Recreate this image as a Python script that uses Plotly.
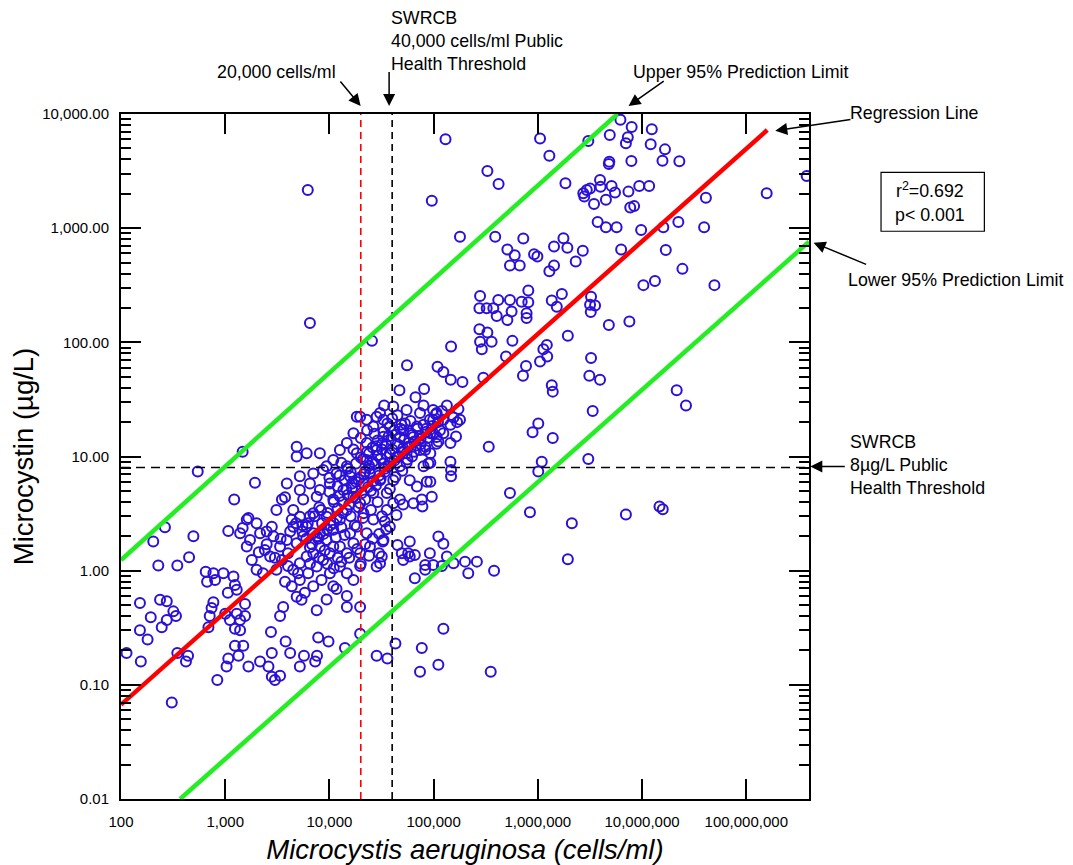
import plotly.graph_objects as go

# ---------------- data (cells/ml , microcystin ug/L) ----------------
# upper / right part of the cloud
high_x = [1.3e5, 1.05e6, 1.29e6, 3.28e5, 4.2e5, 9.6e4, 1.79e5, 3.05e6, 6.2e6, 7.95e6,
          4.9e6, 7.3e6, 7.0e6, 1.24e7, 1.21e7, 1.66e7, 1.57e7, 2.28e7, 7.9e6, 4.85e6,
          4.8e6, 1.84e6, 2.73e6, 2.95e6, 3.17e6, 2.79e6, 3.95e6, 4.0e6, 5.1e6, 5.5e6,
          4.5e6, 3.46e6, 7.4e6, 9.4e6, 1.17e7, 7.7e6, 8.4e6, 3.75e6, 4.5e6, 5.7e6,
          9.8e6, 1.6e7, 2.23e7, 3.94e7, 4.1e7, 1.57e8, 3.8e8, 3.9e5, 7.25e5, 5.1e5,
          6.0e5, 9.2e5, 9.9e5, 5.4e5, 6.7e5, 1.43e6, 1.76e6, 1.92e6, 2.7e6, 2.31e6,
          1.43e6, 1.29e6, 6.3e6, 1.69e7, 2.44e7, 1.03e7, 1.33e7, 4.95e7, 2.79e5, 2.75e5,
          3.23e5, 4.17e5, 4.03e5, 5.1e5, 5.4e5, 5.6e5, 7.0e5, 8.1e5, 8.1e5, 7.8e5,
          7.8e5, 3.74e5, 1.36e6, 1.52e6, 1.7e6, 3.24e6, 3.17e6, 3.54e6, 3.22e6, 4.8e6,
          7.56e6, 2.75e5, 3.28e5, 2.79e5, 2.9e5, 3.6e5, 5.7e5, 4.95e5, 1.47e5, 1.94e6,
          1.22e6, 1.13e6, 1.23e6, 1.05e6, 7.7e5, 7.2e5, 3.0e5, 1.09e5, 1.24e5, 1.46e5,
          1.89e5, 3.24e6, 3.12e6, 3.95e6, 1.36e6, 1.39e6, 2.15e7, 2.64e7, 3.36e6, 1.01e6,
          8.9e5, 1.39e6, 3.38e5, 1.09e6, 1.01e6, 3.05e6, 5.4e5]
high_y = [6000, 6100, 4300, 3170, 2440, 1740, 840, 5800, 8900, 7700,
          6550, 6250, 5550, 7350, 5430, 4900, 3900, 3850, 3880, 3820,
          3650, 2470, 2020, 2160, 2230, 1890, 2640, 2310, 2340, 2050,
          1770, 1630, 2090, 2340, 2340, 1520, 1560, 1130, 1020, 1020,
          965, 1020, 1130, 1020, 1850, 2020, 2870, 840, 810, 650,
          580, 590, 565, 470, 470, 690, 815, 675, 635, 510,
          470, 420, 650, 645, 440, 317, 345, 317, 255, 199,
          199, 235, 170, 157, 235, 186, 227, 284, 224, 180,
          163, 199, 232, 205, 265, 251, 213, 210, 184, 142,
          152, 130, 122, 101, 87, 101, 103, 75, 92, 114,
          95, 87, 75, 68, 62, 51, 49, 61, 55, 47,
          45, 73, 51, 47, 42, 37, 38, 28, 25, 19.5,
          16.3, 14.5, 12.2, 9.0, 7.4, 9.5, 4.8]

# points around 100,000 cells/ml and isolated points
mid_x = [1.34e5, 1.07e5, 1.24e5, 1.55e5, 1.73e5, 1.68e5, 1.45e5, 1.15e5, 9.9e4, 1.11e5,
         1.64e5, 9.3e4, 1.45e5, 1.47e5, 1.47e5, 9.3e4,
         8.4e5, 2.12e6, 7.0e6, 1.47e7, 1.58e7, 1.94e6, 4.95e4, 5.9e4, 8.3e4, 1.2e5,
         3.3e4, 3.06e4, 7.8e4, 6.4e4, 5.1e4, 3.4e4, 8.3e4, 1.07e5,
         6.2e3, 6.5e3, 2.56e4, 5.55e4,
         1.97e4, 2.84e4, 3.18e4, 4.5e4, 5.9e4, 5.7e4, 6.6e4, 5.1e4, 6.6e4, 9.2e4,
         8.3e4, 9.9e4, 1.11e5, 1.24e5, 1.34e5, 1.55e5, 2.0e5, 2.15e5, 2.6e5, 3.8e5,
         3.25e4, 3.0e4, 4.4e4, 3.8e4, 7.7e4, 9.6e4, 8.6e4, 8.9e4]
mid_y = [28, 24, 21, 22, 26, 20, 19, 17, 16, 13.5,
         15, 8.8, 9.0, 7.6, 6.7, 6.0,
         3.25, 2.6, 3.1, 3.65, 3.45, 1.26, 1.42, 1.33, 1.02, 1.1,
         1.86, 1.16, 3.65, 3.9, 3.8, 2.7, 11.4, 12.9,
         2160, 148, 103, 63,
         1.1, 1.09, 1.33, 1.68, 1.8, 1.42, 1.37, 1.24, 0.86, 1.42,
         1.12, 1.12, 1.99, 1.72, 1.33, 1.16, 1.2, 0.95, 1.2, 1.0,
         1.8, 1.42, 3.08, 2.43, 4.2, 4.45, 6.0, 8.7]

# lower-left part of the cloud
low_x = [1.47e3, 545, 1.93e3, 1.22e3, 3.75e3, 264, 204, 495, 228, 347,
         450, 1.07e3, 1.47e3, 1.67e3, 152, 193, 237, 275, 246, 275,
         318, 337, 152, 180, 113, 155, 347, 440, 420, 307,
         840, 650, 770, 670, 960, 1.2e3, 800, 1.06e3, 1.24e3, 1.29e3,
         770, 740, 710, 690, 1.0e3, 1.11e3, 1.29e3, 1.39e3, 1.55e3, 1.55e3,
         1.24e3, 1.39e3, 1.24e3, 1.49e3, 1.34e3, 1.07e3, 1.03e3, 1.67e3, 2.16e3, 2.8e3,
         2.75e3, 2.6e3, 2.8e3, 3.0e3, 3.36e3, 3.8e3, 4.2e3, 5.2e3, 5.7e3, 7.6e3,
         7.3e3, 7.8e3, 9.8e3, 3.36e3, 3.6e3, 4.85e3, 5.4e3, 7.55e3, 9.4e3, 1.17e4,
         1.47e4, 1.47e4, 1.97e4, 1.97e4, 1.41e4, 2.84e4, 3.6e4, 4.3e4, 7.7e4, 7.4e4,
         1.11e5, 1.24e5, 3.53e5]
low_y = [11.0, 7.4, 5.9, 4.2, 4.4, 2.4, 1.8, 2.0, 1.11, 1.11,
         1.31, 2.23, 2.36, 2.9, 0.52, 0.39, 0.555, 0.54, 0.32, 0.37,
         0.44, 0.40, 0.30, 0.25, 0.19, 0.16, 0.19, 0.18, 0.16, 0.07,
         0.11, 0.98, 0.95, 0.80, 0.95, 0.89, 0.83, 0.64, 0.75, 0.68,
         0.53, 0.47, 0.40, 0.32, 0.42, 0.37, 0.42, 0.37, 0.51, 0.40,
         0.31, 0.30, 0.22, 0.22, 0.18, 0.17, 0.145, 0.145, 0.16, 0.19,
         0.29, 0.145, 0.118, 0.11, 0.12, 0.24, 0.19, 0.145, 0.18, 0.18,
         0.16, 0.26, 0.24, 0.40, 0.48, 0.59, 0.555, 0.45, 0.56, 0.69,
         0.60, 0.48, 0.48, 0.28, 0.21, 0.18, 0.17, 0.23, 0.21, 0.13,
         0.15, 0.31, 0.13]

# dense core along the regression line
core_x = [1.61e3, 1.8e3, 2.0e3, 2.3e3, 2.5e3, 2.9e3, 2.4e3, 2.7e3, 3.36e3, 3.9e3,
          4.5e3, 4.35e3, 5.2e3, 6.05e3, 7.0e3, 5.6e3, 4.85e3, 4.0e3, 3.5e3, 3.1e3,
          3.75e3, 4.35e3, 5.2e3, 6.25e3, 7.55e3, 8.7e3, 1.01e4, 1.09e4, 8.1e3, 7.0e3,
          6.05e3, 5.2e3, 4.5e3, 5.8e3, 7.0e3, 8.4e3, 1.01e4, 1.26e4, 1.09e4, 1.47e4,
          1.7e4, 1.47e4, 1.26e4, 9.4e3, 8.1e3, 1.09e4, 7.0e3, 9.4e3, 1.26e4, 1.58e4,
          1.7e4, 1.97e4, 1.83e4, 1.47e4, 2.12e4, 2.64e4, 2.28e4, 2.45e4, 4.5e3, 5.6e3,
          7.55e3, 1.09e4, 8.1e3, 5.2e3, 6.5e3, 1.01e4, 1.36e4, 1.7e4, 1.97e4, 1.58e4,
          1.17e4, 9.4e3, 1.47e4, 2.12e4, 2.64e4, 2.45e4, 3.06e4, 3.55e4, 4.1e4, 3.55e4,
          4.75e4, 3.3e4, 2.28e4, 1.83e4, 1.47e4, 1.7e4, 2.28e4, 2.84e4, 3.8e4, 4.75e4,
          5.9e4, 6.9e4, 4.1e4, 5.5e4, 4.75e4, 3.3e4, 2.64e4, 3.8e4, 5.1e4, 6.4e4,
          7.4e4, 8.0e4, 6.9e4, 9.3e4, 9.9e4, 7.4e4, 5.5e4, 4.1e4, 3.06e4, 2.28e4,
          1.97e4, 1.26e4, 1.09e4, 8.1e3, 6.05e3, 4.85e3, 4.85e3, 8.7e3, 7.0e3, 5.2e3,
          3.9e3, 3.5e3, 3.1e3, 2.8e3, 2.16e3, 1.73e3, 2.0e3, 1.61e3, 1.39e3,
          1.83e4, 2.84e4, 3.3e4, 8.0e4, 1.79e5, 9.9e4, 1.45e5, 1.07e5, 8.3e4, 9.3e4,
          1.24e5, 3.35e4, 4.7e4, 6.7e4, 8.1e4]
core_y = [1.63, 1.24, 1.02, 0.95, 2.2, 2.0, 1.52, 1.33, 1.63, 1.86,
          2.43, 2.8, 2.97, 2.43, 2.13, 2.0, 1.74, 1.42, 1.24, 1.02,
          0.8, 0.73, 0.83, 0.95, 1.09, 1.24, 1.42, 1.63, 1.63, 1.42,
          1.33, 1.16, 1.02, 0.64, 0.73, 0.83, 0.95, 1.09, 0.73, 0.95,
          0.83, 1.42, 1.63, 1.86, 2.13, 2.28, 3.18, 2.97, 2.8, 2.13,
          1.74, 1.42, 2.43, 3.4, 3.18, 2.8, 2.13, 1.63, 3.4, 4.2,
          4.45, 4.2, 5.1, 5.1, 5.8, 5.8, 5.1, 4.45, 3.9, 6.7,
          7.1, 8.2, 8.2, 5.8, 4.8, 7.1, 6.2, 4.8, 3.9, 3.4,
          4.2, 8.7, 9.3, 10.7, 13.1, 16, 13.1, 11.4, 10.7, 8.2,
          6.2, 5.45, 6.2, 10.7, 14.8, 14.9, 18.3, 18.3, 17, 14.8,
          11.4, 8.2, 18.3, 16, 21, 24, 25.6, 27.4, 24, 21,
          22.3, 11.4, 9.3, 10.7, 10.7, 10, 12.2, 7.6, 7.1, 6.7,
          5.8, 4.2, 3.4, 2.43, 2.13, 1.86, 2.6, 2.8, 2.13,
          22.3, 22.3, 21, 28, 21, 25.6, 13.1, 14.8, 12.2, 10.7,
          16, 28, 38, 33, 39]

# overlapping circles filling the densest band
fill_x = [1.2e4, 1.35e4, 1.5e4, 1.65e4, 1.8e4, 2.0e4, 2.2e4, 2.4e4, 2.6e4, 2.9e4,
          3.2e4, 3.5e4, 3.9e4, 4.3e4, 4.8e4, 5.3e4, 1.1e4, 9.5e3, 8.5e3, 1.3e4,
          1.6e4, 1.9e4, 2.2e4, 2.5e4, 2.8e4, 3.1e4, 3.4e4, 3.7e4, 4.2e4, 4.6e4,
          5.1e4, 5.8e4, 6.3e4, 2.0e4, 2.3e4, 2.6e4, 2.9e4, 3.3e4, 3.6e4, 4.0e4,
          1.4e4, 1.6e4, 1.2e4, 1.0e4, 8.0e3, 6.5e3, 6.0e3, 7.8e3, 9.0e3, 1.15e4,
          1.4e4, 1.75e4, 2.1e4, 2.5e4, 2.9e4, 3.2e4, 3.8e4, 4.3e4, 5.0e4, 5.5e4,
          6.2e4, 6.8e4, 7.5e4, 8.5e4, 6.0e4, 4.5e4, 3.0e3, 3.4e3, 4.2e3, 4.8e3,
          5.5e3, 6.5e3, 4.0e3, 5.0e3, 6.5e3, 8.0e3, 9.5e3, 1.2e4, 2.5e3, 2.1e3,
          1.3e4, 1.0e4, 1.7e4, 2.0e4, 2.3e4, 2.7e4]
fill_y = [3.5, 4.0, 4.6, 5.3, 6.0, 6.6, 7.4, 8.3, 9.0, 10.2,
          11.5, 12.8, 14.0, 15.5, 17.5, 19.5, 2.6, 2.3, 2.6, 2.4,
          3.0, 3.6, 4.2, 5.0, 5.6, 6.4, 7.3, 8.2, 9.2, 10.1,
          11.8, 13.2, 15.5, 9.8, 11.0, 12.0, 13.8, 16.5, 19.5, 21.5,
          6.2, 7.3, 5.5, 4.9, 3.6, 3.0, 1.9, 1.9, 1.5, 1.95,
          2.05, 2.5, 2.9, 3.4, 4.0, 3.0, 5.2, 6.6, 7.5, 8.8,
          10.0, 12.5, 14.2, 17.5, 20.5, 23.0, 1.3, 1.9, 2.2, 2.6,
          2.5, 1.6, 1.1, 0.95, 1.15, 1.3, 1.15, 1.3, 1.7, 1.45,
          8.8, 6.5, 11.5, 14.5, 17, 15.8]

fill2_x = [5.5e3, 6.2e3, 7.2e3, 8.3e3, 9.6e3, 1.1e4, 1.25e4, 1.45e4, 1.65e4, 1.9e4,
           2.15e4, 2.45e4, 2.75e4, 3.1e4, 3.5e4, 4.0e4, 4.5e4, 5.2e4, 6.0e4, 7.0e4,
           8.0e4, 9.2e4, 1.05e5, 1.2e5, 6.8e3, 7.6e3, 8.8e3, 1.02e4, 1.18e4, 1.35e4,
           1.55e4, 1.78e4, 2.05e4, 2.35e4, 2.65e4, 3.0e4, 3.4e4, 3.85e4, 4.4e4, 5.0e4,
           5.7e4, 6.5e4, 7.4e4, 8.5e4, 9.7e4, 1.1e5, 1.25e4, 1.5e4, 1.8e4, 2.1e4,
           2.4e4, 2.8e4, 3.2e4, 3.7e4, 4.2e4, 4.9e4, 5.6e4, 6.5e4, 7.5e4, 8.7e4,
           1.3e4, 1.55e4, 1.85e4, 2.2e4, 2.6e4, 3.0e4, 3.5e4, 2.0e4, 2.4e4, 1.1e4]
fill2_y = [2.2, 2.6, 3.0, 3.4, 3.2, 4.0, 4.5, 5.2, 5.8, 6.3,
           7.0, 7.8, 8.6, 9.6, 10.5, 11.5, 12.8, 14.0, 16.0, 17.5,
           19.0, 21.0, 23.5, 25.0, 1.7, 2.0, 2.1, 2.5, 2.9, 3.2,
           3.8, 4.3, 4.8, 5.4, 6.1, 6.8, 7.8, 8.8, 9.9, 11.0,
           12.2, 13.5, 15.2, 16.5, 18.5, 20.0, 6.8, 7.8, 8.7, 9.5,
           10.6, 12.3, 13.0, 15.0, 17.0, 19.0, 9.4, 11.0, 12.8, 14.5,
           1.2, 1.3, 1.55, 1.7, 1.9, 2.1, 2.3, 1.15, 1.35, 1.05]

groups = [(low_x, low_y), (core_x, core_y), (fill_x, fill_y), (fill2_x, fill2_y),
          (mid_x, mid_y), (high_x, high_y)]
for a, b in groups:
    assert len(a) == len(b), (len(a), len(b))

# fitted lines (end points)
regression_x = [100, 1.59e8]
regression_y = [0.067, 7240]
upper_pl_x = [100, 5.8e6]
upper_pl_y = [1.24, 10000]
lower_pl_x = [369, 4.0e8]
lower_pl_y = [0.01, 760]

# thresholds
cells_20k = 20000
cells_swrcb = 40000
mc_swrcb = 8
y_lim = [0.01, 10000]
x_lim = [100, 4.0e8]

x_tickvals = [1e2, 1e3, 1e4, 1e5, 1e6, 1e7, 1e8]
x_ticktext = ["100", "1,000", "10,000", "100,000", "1,000,000", "10,000,000", "100,000,000"]
y_tickvals = [0.01, 0.1, 1, 10, 100, 1000, 10000]
y_ticktext = ["0.01", "0.10", "1.00", "10.00", "100.00", "1,000.00", "10,000.00"]
y_minor = [m * d for d in [0.01, 0.1, 1, 10, 100, 1000] for m in range(2, 10)]

FONT = "Liberation Sans, Arial, Helvetica, sans-serif"
BLUE = "#2a10d8"
X_RANGE = [2, 8.602]
Y_RANGE = [-2, 4]

fig = go.Figure()

for xs, ys in groups:
    fig.add_trace(go.Scatter(x=xs, y=ys, mode="markers",
                             marker=dict(symbol="circle-open", size=10, color=BLUE,
                                         line=dict(width=2, color=BLUE)),
                             showlegend=False, hoverinfo="x+y"))

# threshold lines
fig.add_trace(go.Scatter(x=[cells_20k, cells_20k], y=y_lim, mode="lines",
                         line=dict(color="red", width=1.6, dash="7px,5px"), showlegend=False))
fig.add_trace(go.Scatter(x=[cells_swrcb, cells_swrcb], y=y_lim, mode="lines",
                         line=dict(color="black", width=1.6, dash="7px,5px"), showlegend=False))
fig.add_trace(go.Scatter(x=x_lim, y=[mc_swrcb, mc_swrcb], mode="lines",
                         line=dict(color="black", width=1.6, dash="9px,6px"), showlegend=False))

# regression and prediction limits (drawn on the overlay axes that carry the mirrored ticks)
fig.add_trace(go.Scatter(x=upper_pl_x, y=upper_pl_y, mode="lines", xaxis="x2", yaxis="y2",
                         line=dict(color="#22ee22", width=4.5), showlegend=False))
fig.add_trace(go.Scatter(x=lower_pl_x, y=lower_pl_y, mode="lines", xaxis="x2", yaxis="y2",
                         line=dict(color="#22ee22", width=4.5), showlegend=False))
fig.add_trace(go.Scatter(x=regression_x, y=regression_y, mode="lines", xaxis="x2", yaxis="y2",
                         line=dict(color="#ff0000", width=4.5), showlegend=False))

tickfont = dict(family=FONT, size=15, color="black")
common = dict(type="log", ticks="inside", tickcolor="black", tickwidth=1.6,
              showgrid=False, zeroline=False)

fig.update_layout(
    xaxis=dict(**common, range=X_RANGE, ticklen=20, showline=True, linecolor="black",
               linewidth=2, mirror=True, tickmode="array", tickvals=x_tickvals,
               ticktext=x_ticktext, tickfont=tickfont, ticklabelstandoff=8,
               title=dict(text="<i>Microcystis aeruginosa (cells/ml)</i>",
                          font=dict(family=FONT, size=27.5, color="black"), standoff=12)),
    yaxis=dict(**common, range=Y_RANGE, ticklen=20, showline=True, linecolor="black",
               linewidth=2, mirror=True, tickmode="array", tickvals=y_tickvals,
               ticktext=y_ticktext, tickfont=tickfont, ticklabelstandoff=7,
               minor=dict(ticks="inside", ticklen=10, tickwidth=1.6, tickcolor="black",
                          tickmode="array", tickvals=y_minor, showgrid=False),
               title=dict(text="Microcystin (µg/L)",
                          font=dict(family=FONT, size=27.5, color="black"), standoff=2)),
    xaxis2=dict(**common, range=X_RANGE, ticklen=20, overlaying="x", side="top", anchor="y",
                tickmode="array", tickvals=x_tickvals, showticklabels=False, showline=False),
    yaxis2=dict(**common, range=Y_RANGE, ticklen=20, overlaying="y", side="right", anchor="x",
                tickmode="array", tickvals=y_tickvals, showticklabels=False, showline=False,
                minor=dict(ticks="inside", ticklen=10, tickwidth=1.6, tickcolor="black",
                           tickmode="array", tickvals=y_minor, showgrid=False)),
)

ann_font = dict(family=FONT, size=17.8, color="black")
arrow = dict(showarrow=True, arrowhead=2, arrowsize=1.6, arrowwidth=1.5,
             arrowcolor="black", text="", xref="paper", yref="paper", axref="pixel", ayref="pixel")

annotations = [
    dict(text="20,000 cells/ml", x=0.1367, y=1.0617, xanchor="left", yanchor="middle"),
    dict(text="SWRCB<br>40,000 cells/ml Public<br>Health Threshold", x=0.3897, y=1.1069,
         xanchor="left", yanchor="middle", align="left"),
    dict(text="Upper 95% Prediction Limit", x=0.7416, y=1.0617, xanchor="left", yanchor="middle"),
    dict(text="Regression Line", x=1.0571, y=1.001, xanchor="left", yanchor="middle"),
    dict(text="r<sup>2</sup>=0.692<br>p< 0.001", x=1.1764, y=0.8709, xanchor="center",
         yanchor="middle", align="center"),
    dict(text="Lower 95% Prediction Limit", x=1.0542, y=0.7578, xanchor="left", yanchor="middle"),
    dict(text="SWRCB<br>8µg/L Public<br>Health Threshold", x=1.0571, y=0.4871,
         xanchor="left", yanchor="middle", align="left"),
]
for a in annotations:
    a.update(showarrow=False, xref="paper", yref="paper", font=ann_font)

arrows = [
    dict(x=0.3483, y=1.0117, ax=-21.5, ay=-26),
    dict(x=0.3897, y=1.0117, ax=0, ay=-35.5),
    dict(x=0.7377, y=1.0117, ax=36.7, ay=-26),
    dict(x=0.9510, y=0.9756, ax=76.7, ay=-11.4),
    dict(x=1.0067, y=0.8122, ax=54, ay=22.3),
    dict(x=1.0019, y=0.4853, ax=36, ay=0),
]
for a in arrows:
    a.update(arrow)

# page body has an 8px margin, so the figure is 8px smaller than the window
fig.update_layout(
    width=1065, height=857,
    margin=dict(l=113, r=264, t=106, b=66, autoexpand=False),
    paper_bgcolor="white", plot_bgcolor="white",
    font=dict(family=FONT, color="black"),
    annotations=annotations + arrows,
    shapes=[dict(type="rect", xref="paper", yref="paper", x0=1.1047, x1=1.2549,
                 y0=0.8288, y1=0.9149, line=dict(color="black", width=1.2))],
    showlegend=False,
)

fig.write_html("out.html")
